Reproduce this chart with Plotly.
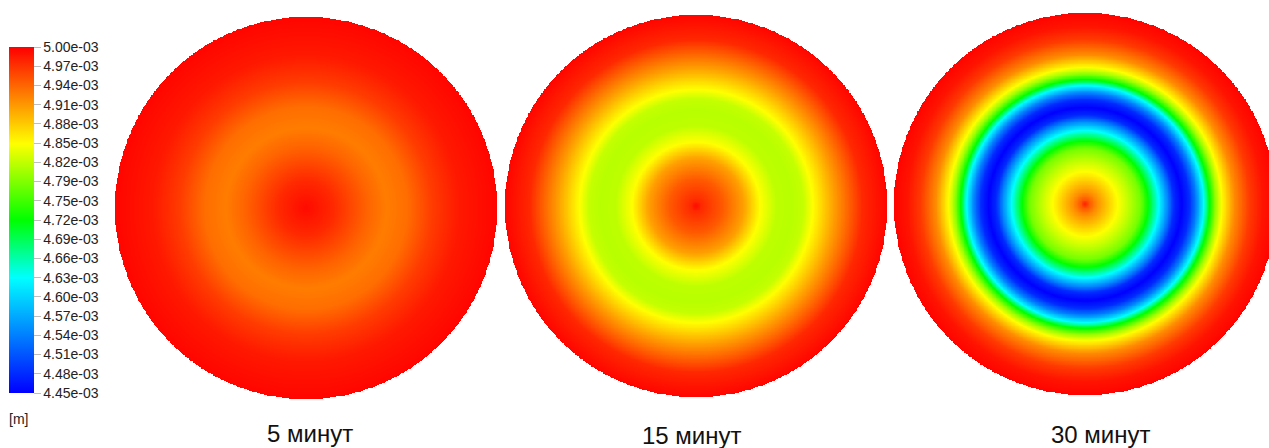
import numpy as np
import plotly.graph_objects as go

# ---- data (radial profiles of the field, value in 1e-3 m) ----
panel_titles = ["5 минут", "15 минут", "30 минут"]

r_5min = [0.0, 0.14, 0.32, 0.42, 0.53, 0.66, 0.80, 1.0]
v_5min = [4.994, 4.976, 4.940, 4.925, 4.934, 4.964, 4.985, 4.997]

r_15min = [0.0, 0.03, 0.14, 0.25, 0.335, 0.42, 0.50, 0.56, 0.61, 0.72, 0.87, 1.0]
v_15min = [4.994, 4.975, 4.946, 4.903, 4.846, 4.815, 4.812, 4.818, 4.846, 4.903, 4.976, 4.997]

r_30min = [0.0, 0.02, 0.06, 0.17, 0.23, 0.29, 0.33, 0.385, 0.435, 0.465, 0.505,
           0.545, 0.58, 0.62, 0.65, 0.685, 0.715, 0.78, 0.86, 0.93, 1.0]
v_30min = [4.985, 4.95, 4.915, 4.846, 4.815, 4.78, 4.725, 4.633, 4.54, 4.48, 4.45,
           4.48, 4.54, 4.633, 4.725, 4.80, 4.846, 4.915, 4.965, 4.988, 4.998]

tick_labels = ["4.45e-03", "4.48e-03", "4.51e-03", "4.54e-03", "4.57e-03", "4.60e-03",
               "4.63e-03", "4.66e-03", "4.69e-03", "4.72e-03", "4.75e-03", "4.79e-03",
               "4.82e-03", "4.85e-03", "4.88e-03", "4.91e-03", "4.94e-03", "4.97e-03",
               "5.00e-03"]
zmin, zmax = 4.45, 5.00

profiles = [(r_5min, v_5min), (r_15min, v_15min), (r_30min, v_30min)]

# ---- layout geometry (pixels) ----
W, H = 1269, 448
R = 191
centers = [(306, 208), (696, 206), (1085, 204)]
title_pos = [(310, 433), (692, 435), (1101, 434)]

colorscale = [
    [0.0, "rgb(0,0,255)"],
    [0.333, "rgb(0,255,255)"],
    [0.5, "rgb(0,255,0)"],
    [0.72, "rgb(255,255,0)"],
    [1.0, "rgb(255,0,0)"],
]

N = 481
g = np.linspace(-1.0, 1.0, N)
X, Y = np.meshgrid(g, g)
RR = np.sqrt(X**2 + Y**2)

fig = go.Figure()
for i, ((rp, vp), (cx, cy)) in enumerate(zip(profiles, centers)):
    z = np.interp(RR, rp, vp)
    z[RR > 1.0] = np.nan
    z = z.astype(np.float32)
    xa = "x" if i == 0 else f"x{i+1}"
    ya = "y" if i == 0 else f"y{i+1}"
    fig.add_trace(go.Heatmap(
        x=g, y=g, z=z, xaxis=xa, yaxis=ya,
        colorscale=colorscale, zmin=zmin, zmax=zmax,
        showscale=(i == 0), hoverinfo="skip",
        colorbar=dict(
            x=9 / W, xanchor="left", xpad=0, ypad=0,
            y=1 - 220 / H, yanchor="middle",
            thickness=25, thicknessmode="pixels",
            len=346, lenmode="pixels",
            tickvals=list(np.linspace(zmin, zmax, len(tick_labels))),
            ticktext=tick_labels,
            ticks="outside", ticklen=7, tickwidth=1, tickcolor="rgba(110,110,110,0.45)",
            outlinewidth=0,
            tickfont=dict(family="Liberation Sans, Arial", size=14, color="#222"),
        ) if i == 0 else None,
    ))
    left = max(cx - R, 0)
    right = min(cx + R, W)
    xdom = [left / W, right / W]
    xr = [(left - cx) / R, (right - cx) / R]
    ydom = [1 - (cy + R) / H, 1 - (cy - R) / H]
    ax_common = dict(visible=False, showgrid=False, zeroline=False, fixedrange=True)
    fig.layout[("xaxis" if i == 0 else f"xaxis{i+1}")] = dict(domain=xdom, range=xr, anchor=ya, **ax_common)
    fig.layout[("yaxis" if i == 0 else f"yaxis{i+1}")] = dict(domain=ydom, range=[-1, 1], anchor=xa, **ax_common)

for t, (tx, ty) in zip(panel_titles, title_pos):
    fig.add_annotation(text=t, x=tx / W, y=1 - ty / H, xref="paper", yref="paper",
                       xanchor="center", yanchor="middle", showarrow=False,
                       font=dict(family="Liberation Sans Narrow, Arial Narrow, Liberation Sans", size=24, color="#111"))

fig.add_annotation(text="[m]", x=7 / W, y=1 - 419 / H, xref="paper", yref="paper",
                   xanchor="left", yanchor="middle", showarrow=False,
                   font=dict(family="Liberation Sans, Arial", size=14, color="#222"))

fig.update_layout(width=W, height=H, margin=dict(l=0, r=0, t=0, b=0),
                  paper_bgcolor="white", plot_bgcolor="white", showlegend=False)

fig.write_html("out.html", config={"displayModeBar": False},
               post_script="document.body.style.margin='0px';document.body.style.overflow='hidden';")
